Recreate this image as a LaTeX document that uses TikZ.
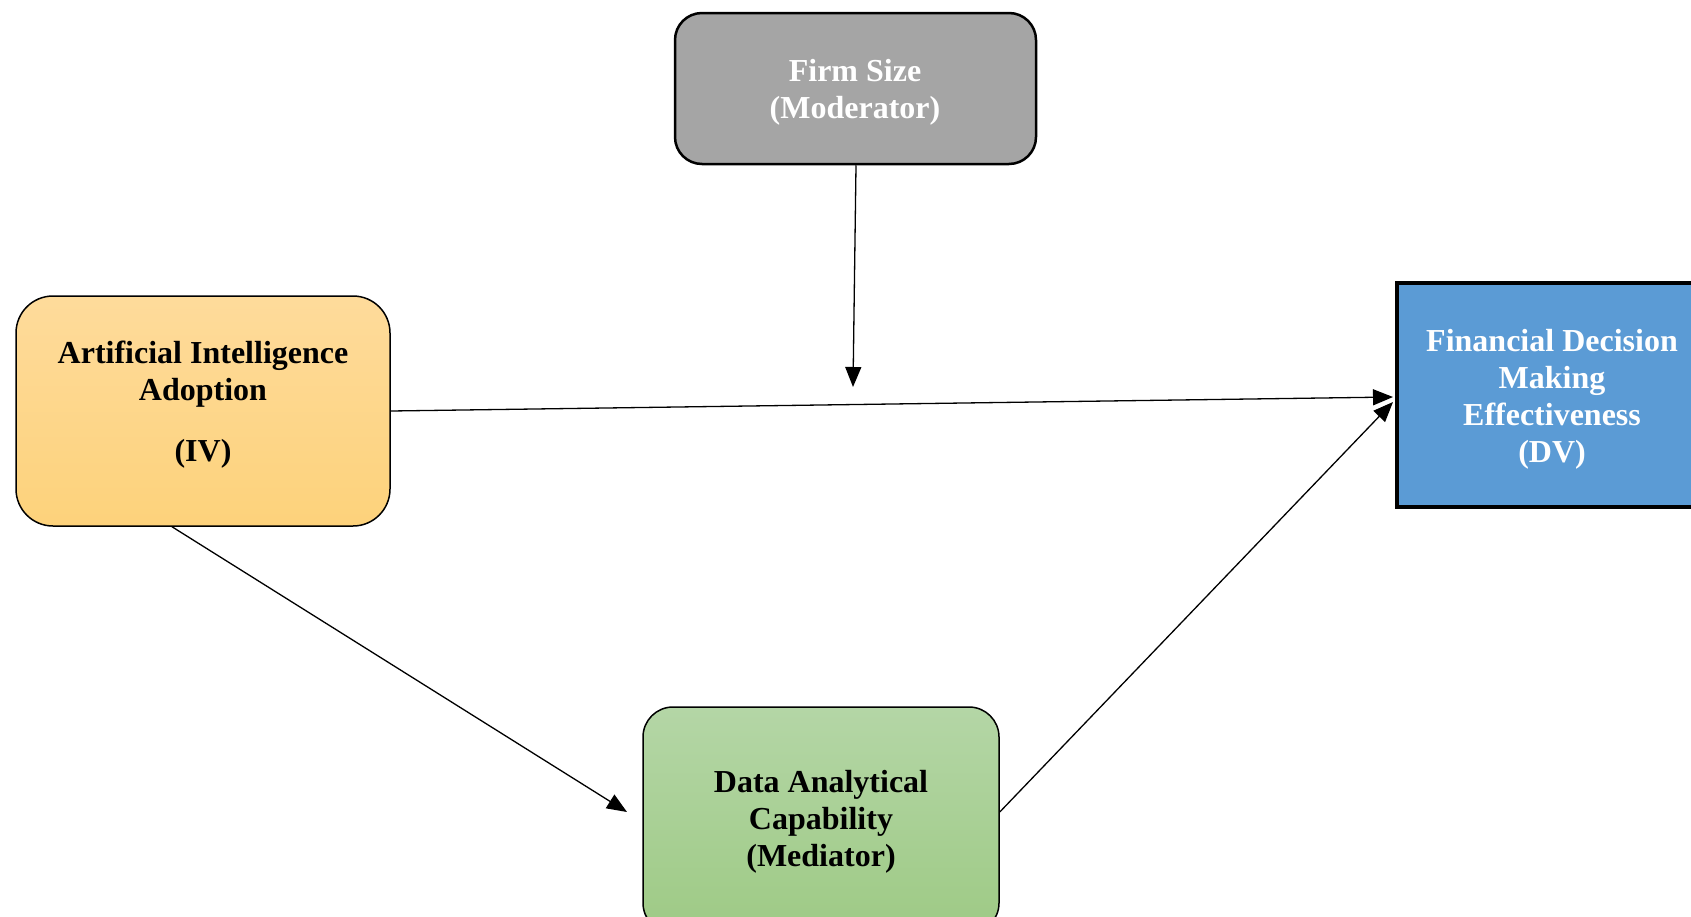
\documentclass[tikz,border=0pt]{standalone}
\usepackage{fontspec}
\setmainfont{Liberation Serif}
\usetikzlibrary{arrows.meta}
\definecolor{gbox}{HTML}{A5A5A5}
\definecolor{bbox}{HTML}{5B9BD5}
\definecolor{otop}{HTML}{FEDB9B}
\definecolor{obot}{HTML}{FDD27B}
\definecolor{gtop}{HTML}{B4D6A6}
\definecolor{gbot}{HTML}{9ECA85}
\tikzset{
  lbl/.style={font=\fontsize{32}{37}\selectfont\bfseries, align=center, inner sep=0pt},
  conn/.style={line width=1.3pt, -{Triangle[length=20pt,width=16pt]}},
}
\begin{document}
\begin{tikzpicture}[x=1pt,y=-1pt]
\useasboundingbox (0,0) rectangle (1691,916);
% boxes
\node[draw=black, line width=2.5pt, fill=gbox, rounded corners=27pt, minimum width=361pt, minimum height=151pt, inner sep=0pt] (firm) at (855.5,88.5) {};
\node[lbl, text=white] (firmt) at (855,92) {Firm Size\\(Moderator)};
\node[draw=black, line width=1.5pt, top color=otop, bottom color=obot, rounded corners=37pt, minimum width=374pt, minimum height=230pt, inner sep=0pt] (ai) at (203,411) {};
\node[lbl] (ait) at (203,405) {Artificial Intelligence\\Adoption\\[24pt](IV)};
\node[draw=black, line width=4pt, fill=bbox, minimum width=310pt, minimum height=224pt, inner sep=0pt] (fdm) at (1552,395) {};
\node[lbl, text=white] (fdmt) at (1552,399) {Financial Decision\\Making\\Effectiveness\\(DV)};
\node[draw=black, line width=1.5pt, top color=gtop, bottom color=gbot, rounded corners=30pt, minimum width=356pt, minimum height=226pt, inner sep=0pt] (data) at (821,820) {};
\node[lbl] (datat) at (821,822) {Data Analytical\\Capability\\(Mediator)};
% connectors
\coordinate (modtip) at (853,387);
\coordinate (dain) at (627,812);
\draw[conn] ([xshift=0.5pt]firm.south) -- (modtip);
\draw[conn] (ai.east) -- ([yshift=-2pt,xshift=-2pt]fdm.west);
\draw[conn] ([xshift=-31pt]ai.south) -- (dain);
\draw[conn] ([yshift=8pt]data.east) -- ([yshift=-7pt,xshift=-2pt]fdm.west);
\end{tikzpicture}
\end{document}
